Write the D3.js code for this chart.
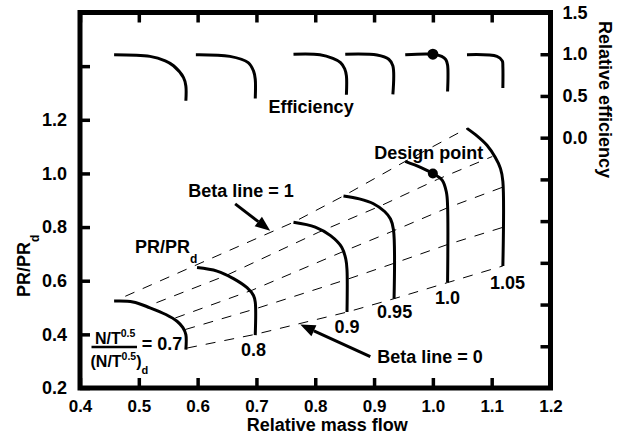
<!DOCTYPE html>
<html>
<head>
<meta charset="utf-8">
<script src="https://cdn.jsdelivr.net/npm/d3@7"></script>
<style>
  body { margin: 0; background: #fff; }
  svg { display: block; font-family: "Liberation Sans", Arial, sans-serif; font-weight: bold; }
</style>
</head>
<body>
<svg id="chart"></svg>
<script>
const width = 627;
const height = 438;

// ticks
const massFlowTicks = [0.4, 0.5, 0.6, 0.7, 0.8, 0.9, 1.0, 1.1, 1.2];
const prTicks = [0.2, 0.4, 0.6, 0.8, 1.0, 1.2, 1.4];
const prLabelled = [0.2, 0.4, 0.6, 0.8, 1.0, 1.2];
const effTicks = [-2.5, -2.0, -1.5, -1.0, -0.5, 0.0, 0.5, 1.0, 1.5];
const effLabelled = [0.0, 0.5, 1.0, 1.5];

// speed lines N/T^0.5 relative to design
const speeds = ['0.7', '0.8', '0.9', '0.95', '1.0', '1.05'];

// PR/PRd vs relative mass flow, one array per speed
const prCurves = [
  [[0.458, 0.524], [0.490, 0.521], [0.519, 0.499], [0.546, 0.474], [0.565, 0.449], [0.575, 0.425], [0.580, 0.399], [0.580, 0.343]],
  [[0.599, 0.649], [0.633, 0.636], [0.661, 0.608], [0.684, 0.574], [0.695, 0.545], [0.698, 0.520], [0.698, 0.397]],
  [[0.763, 0.818], [0.800, 0.800], [0.826, 0.768], [0.845, 0.725], [0.852, 0.680], [0.854, 0.640], [0.854, 0.483]],
  [[0.848, 0.916], [0.875, 0.905], [0.899, 0.887], [0.918, 0.858], [0.928, 0.830], [0.933, 0.790], [0.934, 0.533]],
  [[0.953, 1.045], [0.980, 1.022], [1.000, 1.000], [1.016, 0.974], [1.023, 0.930], [1.025, 0.880], [1.025, 0.593]],
  [[1.058, 1.168], [1.075, 1.140], [1.092, 1.105], [1.106, 1.060], [1.115, 1.018], [1.119, 0.970], [1.119, 0.655]],
];

// relative efficiency vs relative mass flow, one array per speed
const effCurves = [
  [[0.458, 0.994], [0.519, 0.974], [0.545, 0.920], [0.559, 0.862], [0.576, 0.720], [0.580, 0.620], [0.580, 0.442]],
  [[0.597, 0.994], [0.655, 0.974], [0.686, 0.900], [0.695, 0.800], [0.698, 0.700], [0.698, 0.470]],
  [[0.763, 1.000], [0.808, 0.994], [0.830, 0.950], [0.843, 0.900], [0.850, 0.826], [0.853, 0.740], [0.853, 0.514]],
  [[0.851, 1.000], [0.905, 0.990], [0.925, 0.940], [0.932, 0.860], [0.932, 0.520]],
  [[0.953, 0.994], [1.000, 1.000], [1.015, 0.975], [1.022, 0.935], [1.025, 0.870], [1.025, 0.553]],
  [[1.058, 0.994], [1.109, 0.974], [1.118, 0.920], [1.119, 0.850], [1.119, 0.594]],
];

// beta lines 1, 0.75, 0.5, 0.25, 0 (points where they cross each speed line)
const betaLines = [
  [[0.477, 0.542], [0.599, 0.660], [0.763, 0.818], [0.848, 0.916], [0.953, 1.045], [1.058, 1.168]],
  [[0.530, 0.518], [0.649, 0.620], [0.805, 0.780], [0.911, 0.879], [1.008, 0.978], [1.101, 1.063]],
  [[0.562, 0.461], [0.693, 0.565], [0.851, 0.712], [0.933, 0.786], [1.025, 0.872], [1.119, 0.949]],
  [[0.579, 0.418], [0.698, 0.495], [0.854, 0.605], [0.934, 0.665], [1.025, 0.735], [1.119, 0.799]],
  [[0.582, 0.349], [0.698, 0.400], [0.854, 0.483], [0.934, 0.533], [1.025, 0.593], [1.119, 0.655]],
];

const designPR = [1.0, 1.0];
const designEff = [1.0, 1.0];

const svg = d3.select('#chart').attr('width', width).attr('height', height);
svg.append('rect').attr('width', width).attr('height', height).attr('fill', '#fff');

const plotLeft = 80, plotRight = 550.5, plotTop = 12.5, plotBottom = 388;

const x = d3.scaleLinear().domain([0.4, 1.2]).range([plotLeft, plotRight]);
const y = d3.scaleLinear().domain([0.2, 1.6]).range([plotBottom, plotTop]);
const yEff = d3.scaleLinear().domain([-3.0, 1.5]).range([plotBottom, plotTop]);

const fmt = d3.format('.1f');

// axes, ticks pointing inward
function styleAxis(g, size) {
  g.select('.domain').remove();
  g.selectAll('.tick line').attr('stroke', '#000').attr('stroke-width', 3.5);
  g.selectAll('.tick text')
    .attr('fill', '#000')
    .style('font-size', size + 'px')
    .style('font-weight', 'bold')
    .style('font-family', '"Liberation Sans", Arial, sans-serif');
}

svg.append('g')
  .attr('transform', `translate(0,${plotBottom})`)
  .call(d3.axisBottom(x).tickValues(massFlowTicks).tickSize(-10).tickPadding(12).tickFormat(fmt))
  .call((g) => styleAxis(g, 17));

svg.append('g')
  .attr('transform', `translate(0,${plotTop})`)
  .call(d3.axisTop(x).tickValues(massFlowTicks).tickSize(-10).tickFormat(''))
  .call((g) => styleAxis(g, 17));

svg.append('g')
  .attr('transform', `translate(${plotLeft},0)`)
  .call(d3.axisLeft(y).tickValues(prTicks).tickSize(-10).tickPadding(13)
    .tickFormat((d) => (prLabelled.some((v) => Math.abs(v - d) < 1e-9) ? fmt(d) : '')))
  .call((g) => styleAxis(g, 18));

svg.append('g')
  .attr('transform', `translate(${plotRight},0)`)
  .call(d3.axisRight(yEff).tickValues(effTicks).tickSize(-10).tickPadding(12)
    .tickFormat((d) => (effLabelled.some((v) => Math.abs(v - d) < 1e-9) ? fmt(d) : '')))
  .call((g) => styleAxis(g, 18));

// frame
svg.append('rect')
  .attr('x', plotLeft).attr('y', plotTop)
  .attr('width', plotRight - plotLeft).attr('height', plotBottom - plotTop)
  .attr('fill', 'none').attr('stroke', '#000').attr('stroke-width', 5);

// axis titles
svg.append('text')
  .attr('x', x(0.8) + 12).attr('y', 431)
  .attr('text-anchor', 'middle')
  .style('font-size', '18px')
  .text('Relative mass flow');

const yTitle = svg.append('text')
  .attr('transform', 'translate(30,297) rotate(-90)')
  .style('font-size', '18px');
yTitle.append('tspan').text('PR/PR');
yTitle.append('tspan').attr('dy', 9).style('font-size', '12px').text('d');

svg.append('text')
  .attr('transform', 'translate(599,21) rotate(90)')
  .style('font-size', '18px')
  .text('Relative efficiency');

// plain annotations (text, mass flow, PR, anchor)
const notes = [
  { t: 'Efficiency', m: 0.793, pr: 1.224, a: 'middle' },
  { t: 'Design point', m: 0.993, pr: 1.0555, a: 'middle' },
  { t: 'Beta line = 1', m: 0.6737, pr: 0.9118, a: 'middle' },
  { t: 'Beta line = 0', m: 0.9952, pr: 0.2927, a: 'middle' },
  { t: '= 0.7', m: 0.505, pr: 0.3407, a: 'start' },
];
svg.append('g').selectAll('text')
  .data(notes)
  .join('text')
  .attr('x', (d) => x(d.m))
  .attr('y', (d) => y(d.pr))
  .attr('text-anchor', (d) => d.a)
  .style('font-size', '18px')
  .text((d) => d.t);

// speed labels under each line (except 0.7 which sits in the fraction)
const speedLabelPos = [null, [0.695, 0.320], [0.854, 0.405], [0.935, 0.4615], [1.025, 0.5114], [1.127, 0.5677]];
svg.append('g').selectAll('text')
  .data(speeds.map((s, i) => ({ s, p: speedLabelPos[i] })).filter((d) => d.p))
  .join('text')
  .attr('x', (d) => x(d.p[0]))
  .attr('y', (d) => y(d.p[1]))
  .attr('text-anchor', 'middle')
  .style('font-size', '18px')
  .text((d) => d.s);

// PR/PRd label in the plot
const prLab = svg.append('text')
  .attr('x', x(0.4936)).attr('y', y(0.7028))
  .style('font-size', '18px');
prLab.append('tspan').text('PR/PR');
prLab.append('tspan').attr('dy', 10).style('font-size', '12px').text('d');

// N/T^0.5 over (N/T^0.5)d
const num = svg.append('text').attr('x', 95).attr('y', 343.5).style('font-size', '16px');
num.append('tspan').text('N/T');
num.append('tspan').attr('dy', -7).style('font-size', '10.5px').text('0.5');
svg.append('line')
  .attr('x1', 91.5).attr('x2', 137).attr('y1', 347).attr('y2', 347)
  .attr('stroke', '#000').attr('stroke-width', 2.5);
const den = svg.append('text').attr('x', 90.5).attr('y', 366.5).style('font-size', '16px');
den.append('tspan').text('(N/T');
den.append('tspan').attr('dy', -7).style('font-size', '10.5px').text('0.5');
den.append('tspan').attr('dy', 7).text(')');
den.append('tspan').attr('dy', 7).style('font-size', '11px').text('d');

// beta lines
const lin = d3.line().x((d) => x(d[0])).y((d) => y(d[1]));
svg.append('g').selectAll('path')
  .data(betaLines)
  .join('path')
  .attr('d', lin)
  .attr('fill', 'none')
  .attr('stroke', '#000')
  .attr('stroke-width', 1)
  .attr('stroke-dasharray', '10,9');

// speed lines
const smooth = d3.line().curve(d3.curveCatmullRom.alpha(0.5)).x((d) => x(d[0])).y((d) => y(d[1]));
svg.append('g').selectAll('path')
  .data(prCurves)
  .join('path')
  .attr('d', smooth)
  .attr('fill', 'none')
  .attr('stroke', '#000')
  .attr('stroke-width', 3);

const smoothEff = d3.line().curve(d3.curveCatmullRom.alpha(0.5)).x((d) => x(d[0])).y((d) => yEff(d[1]));
svg.append('g').selectAll('path')
  .data(effCurves)
  .join('path')
  .attr('d', smoothEff)
  .attr('fill', 'none')
  .attr('stroke', '#000')
  .attr('stroke-width', 3);

svg.append('circle').attr('cx', x(designPR[0])).attr('cy', y(designPR[1])).attr('r', 5).attr('fill', '#000');
svg.append('circle').attr('cx', x(designEff[0])).attr('cy', yEff(designEff[1])).attr('r', 5.5).attr('fill', '#000');

// arrows
const arrows = [
  { from: [0.6638, 0.8867], to: [0.7234, 0.7865] },
  { from: [0.8936, 0.3174], to: [0.7745, 0.4364] },
];
arrows.forEach((a) => {
  const x0 = x(a.from[0]), y0 = y(a.from[1]);
  const x1 = x(a.to[0]), y1 = y(a.to[1]);
  const ang = Math.atan2(y1 - y0, x1 - x0);
  const hl = 15, hw = 6;
  const bx = x1 - hl * Math.cos(ang), by = y1 - hl * Math.sin(ang);
  svg.append('line')
    .attr('x1', x0).attr('y1', y0).attr('x2', bx).attr('y2', by)
    .attr('stroke', '#000').attr('stroke-width', 3);
  svg.append('path')
    .attr('d', `M${x1},${y1}L${bx + hw * Math.sin(ang)},${by - hw * Math.cos(ang)}L${bx - hw * Math.sin(ang)},${by + hw * Math.cos(ang)}Z`)
    .attr('fill', '#000');
});
</script>
</body>
</html>
